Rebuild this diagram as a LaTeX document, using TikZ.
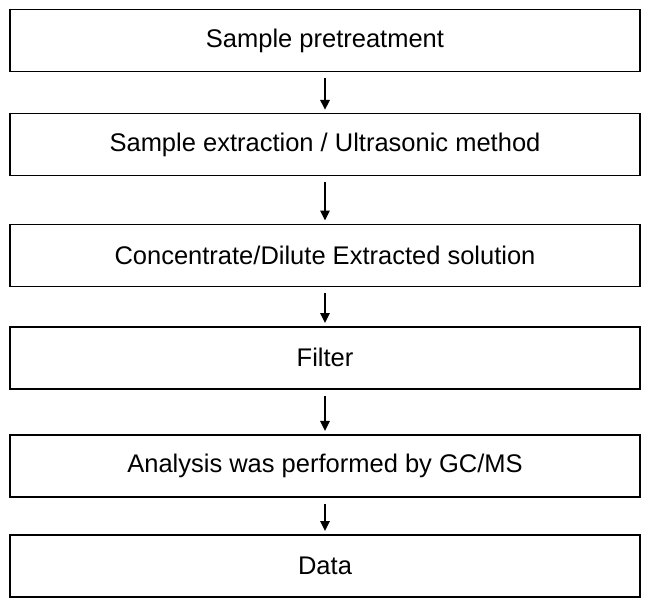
\documentclass[tikz,border=0pt]{standalone}
\usepackage{fontspec}
\setmainfont{Liberation Sans}
\usetikzlibrary{arrows.meta}
\begin{document}
\begin{tikzpicture}[x=1pt,y=-1pt,
  stepbox/.style={draw=black, line width=1.6pt, minimum width=630pt, minimum height=62pt, inner sep=0pt, font=\fontsize{25.5}{30}\selectfont, anchor=center},
  flow/.style={-{Triangle[length=10pt,width=9.5pt]}, line width=1.7pt, shorten <=6pt, shorten >=3pt}]
\useasboundingbox (0,0) rectangle (650,613);
\node[stepbox] (b1) at (325,40.6) {Sample pretreatment};
\node[stepbox] (b2) at (325,144.6) {Sample extraction / Ultrasonic method};
\node[stepbox] (b3) at (325,255.3) {Concentrate/Dilute Extracted solution};
\node[stepbox] (b4) at (325,357.8) {Filter};
\node[stepbox] (b5) at (325,465.7) {Analysis was performed by GC/MS};
\node[stepbox] (b6) at (325,565.8) {Data};
\draw[flow] (b1.south) -- (b2.north);
\draw[flow] (b2.south) -- (b3.north);
\draw[flow] (b3.south) -- (b4.north);
\draw[flow] (b4.south) -- (b5.north);
\draw[flow] (b5.south) -- (b6.north);
\end{tikzpicture}
\end{document}
